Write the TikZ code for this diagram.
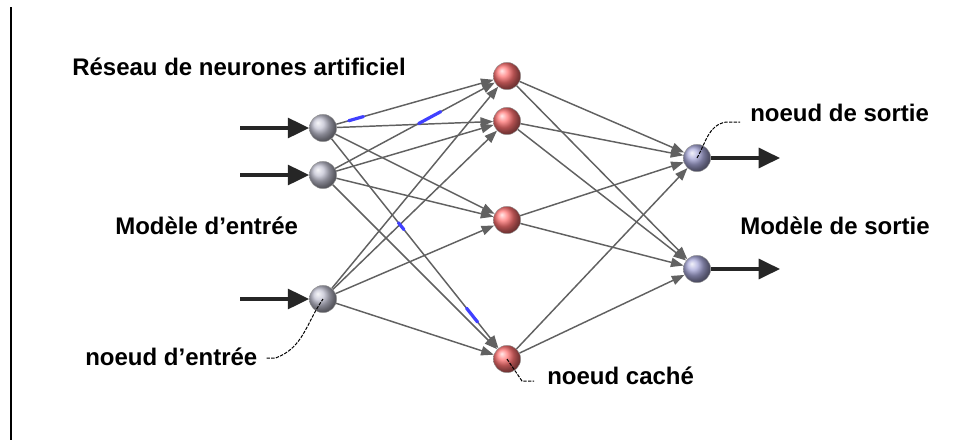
\documentclass[tikz,border=0pt]{standalone}
\usepackage{fontspec}
\setmainfont{Liberation Sans}
\usetikzlibrary{arrows.meta,calc}

\begin{document}
\begin{tikzpicture}[
  x=0.75pt, y=-0.75pt,
  font=\fontsize{18}{21}\selectfont\bfseries,
  neuron/.style={circle, minimum size=20.5pt, inner sep=0pt,
                 draw=black!40, line width=0.3pt},
  innode/.style={neuron, ball color=blue!15!gray!42},
  hidnode/.style={neuron, ball color=red!55!white},
  outnode/.style={neuron, ball color=blue!40!gray!48},
  link/.style={-{Triangle[length=9.5pt,width=7pt]}, line width=1.1pt, black!62},
  feed/.style={-{Triangle[length=16pt,width=15pt]}, line width=2.3pt, black!85},
  pulse/.style={line width=2.4pt, blue!75, line cap=round},
  leader/.style={dash pattern=on 2.5pt off 1pt, line width=0.75pt, black},
  txt/.style={anchor=west, inner sep=0pt}
]
\useasboundingbox (0,0) rectangle (974,440);
\draw[line width=1.5pt] (11,7) -- (11,440);
% ---------------- Layers ----------------
\node[innode] (i1) at (323,128) {};
\node[innode] (i2) at (323,175) {};
\node[innode] (i3) at (323,299) {};
\node[hidnode] (h1) at (507,76) {};
\node[hidnode] (h2) at (507,121) {};
\node[hidnode] (h3) at (507,220) {};
\node[hidnode] (h4) at (507,359) {};
\node[outnode] (o1) at (697,158) {};
\node[outnode] (o2) at (697,269) {};
% ---------------- Weights ----------------
\foreach \i in {i1,i2,i3}{
  \foreach \h in {h1,h2,h3,h4}
    \draw[link] (\i) -- (\h);
}
\foreach \h in {h1,h2,h3,h4}{
  \foreach \o in {o1,o2}
    \draw[link] (\h) -- (\o);
}
% signal pulses on a few weights
\draw[pulse] ($(i1)!0.14!(h1)$) -- ($(i1)!0.22!(h1)$);
\draw[pulse] ($(i2)!0.52!(h1)$) -- ($(i2)!0.64!(h1)$);
\draw[pulse] ($(i1)!0.41!(h4)$) -- ($(i1)!0.44!(h4)$);
\draw[pulse] ($(i1)!0.78!(h4)$) -- ($(i1)!0.84!(h4)$);
% ---------------- Inputs and outputs ----------------
\foreach \n in {1,2,3}{
  \coordinate (s\n) at ($(i\n)+(-83,0)$);
  \draw[feed] (s\n) -- (i\n);
}
\foreach \n in {1,2}{
  \coordinate (t\n) at ($(o\n)+(83,0)$);
  \draw[feed] (o\n) -- (t\n);
}
% ---------------- Labels ----------------
\node[txt] (title) at (72,67) {Réseau de neurones artificiel};
\node[txt] (inpat) at (115,226) {Modèle d'entrée};
\node[txt] (innote) at (85,357) {noeud d'entrée};
\node[txt] (hidnote) at (547,376) {noeud caché};
\node[txt] (outnote) at (750,113) {noeud de sortie};
\node[txt] (outpat) at (740,226) {Modèle de sortie};
\draw[leader] ($(innote.east)+(9,1)$) -- ++(9,0) to[out=20,in=235] (i3.center);
\draw[leader] (h4.center) -- ($(hidnote.west)+(-25,5)$) -- ++(12,0);
\draw[leader] (o1.center) to[out=60,in=190] ($(outnote.west)+(-24,9)$) -- ++(14,0);
\end{tikzpicture}
\end{document}
